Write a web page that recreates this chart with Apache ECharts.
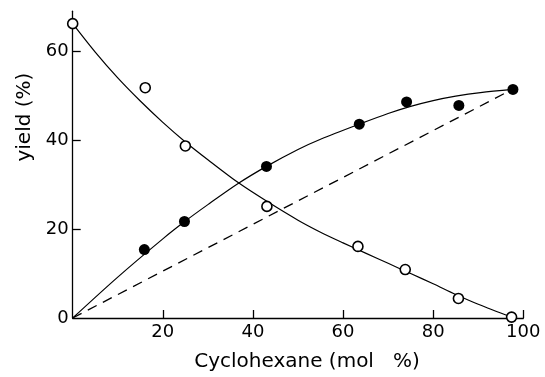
<!DOCTYPE html>
<html>
<head>
<meta charset="utf-8">
<script src="https://cdn.jsdelivr.net/npm/echarts@6/dist/echarts.min.js"></script>
<style>html,body{margin:0;padding:0;background:#fff}#c{width:545px;height:377px}</style>
</head>
<body>
<div id="c"></div>
<script>
// Open circles (decreasing series)
var openX = [0, 16.1, 25.0, 43.1, 63.3, 73.8, 85.6, 97.4];
var openY = [66.2, 51.8, 38.7, 25.1, 16.1, 10.9, 4.4, 0.2];
// Filled circles (increasing series)
var filledX = [15.9, 24.8, 43.0, 63.6, 74.1, 85.7, 97.7];
var filledY = [15.4, 21.7, 34.1, 43.6, 48.6, 47.8, 51.4];
// Hand-drawn fitted curves
var fitDecX = [0, 5, 10, 15, 20, 25, 30, 36.8, 43, 50, 55, 60, 65, 70, 75, 80, 85, 90, 97.4];
var fitDecY = [66.2, 59.8, 54.0, 48.8, 44.0, 39.6, 35.6, 30.4, 26.3, 22.0, 19.3, 16.9, 14.6, 12.3, 10.0, 7.7, 5.3, 3.1, 0.2];
var fitIncX = [0, 10, 20, 25, 30, 36.8, 43, 50, 55, 63.6, 70, 75, 80, 85, 90.5, 97.7];
var fitIncY = [0, 9.2, 17.8, 21.8, 25.5, 30.3, 34.1, 37.9, 40.2, 43.6, 46.0, 47.6, 48.9, 49.9, 50.7, 51.4];
// Dashed reference line
var dashX = [0, 96.4];
var dashY = [0, 50.8];
// Tick labels
var xTicks = [20, 40, 60, 80, 100];
var yLabels = [0, 20, 40, 60];
var yTicks = [20, 40, 60];

function pairs(xs, ys) { return xs.map(function (x, i) { return [x, ys[i]]; }); }

var font = 'DejaVu Sans';
var chart = echarts.init(document.getElementById('c'), null, { renderer: 'canvas' });
chart.setOption({
  animation: false,
  backgroundColor: '#fff',
  grid: { left: 72.7, right: 21.7, top: 11.2, bottom: 55.3, containLabel: false },
  xAxis: {
    type: 'value', min: 0, max: 100, interval: 20,
    name: 'Cyclohexane (mol   %)', nameLocation: 'middle', nameGap: 34,
    nameTextStyle: { fontFamily: font, fontSize: 20, color: '#000', padding: [0, 0, 0, 18] },
    axisLine: { show: true, lineStyle: { color: '#000', width: 1.3 } },
    axisTick: { show: true, inside: true, length: 8, customValues: xTicks, lineStyle: { color: '#000', width: 1.3 } },
    axisLabel: { customValues: xTicks, fontFamily: font, fontSize: 18, color: '#000', margin: 5 },
    splitLine: { show: false }
  },
  yAxis: {
    type: 'value', min: 0, max: 69, interval: 20,
    name: 'yield (%)', nameLocation: 'middle', nameGap: 38, nameRotate: 90,
    nameTextStyle: { fontFamily: font, fontSize: 20, color: '#000', padding: [0, 0, 0, 95] },
    axisLine: { show: true, lineStyle: { color: '#000', width: 1.3 } },
    axisTick: { show: true, inside: true, length: 8, customValues: yTicks, lineStyle: { color: '#000', width: 1.3 } },
    axisLabel: { customValues: yLabels, fontFamily: font, fontSize: 18, color: '#000', margin: 4 },
    splitLine: { show: false }
  },
  series: [
    { type: 'line', data: pairs(fitDecX, fitDecY), smooth: 0.3, showSymbol: false, symbol: 'none',
      lineStyle: { color: '#000', width: 1.2 }, z: 2 },
    { type: 'line', data: pairs(fitIncX, fitIncY), smooth: 0.3, showSymbol: false, symbol: 'none',
      lineStyle: { color: '#000', width: 1.2 }, z: 2 },
    { type: 'line', data: pairs(dashX, dashY), showSymbol: false, symbol: 'none',
      lineStyle: { color: '#000', width: 1.3, type: [10, 7] }, z: 2 },
    { type: 'scatter', data: pairs(openX, openY), symbol: 'circle', symbolSize: 10,
      itemStyle: { color: '#fff', borderColor: '#000', borderWidth: 1.6, opacity: 1 }, z: 3 },
    { type: 'scatter', data: pairs(filledX, filledY), symbol: 'circle', symbolSize: 11,
      itemStyle: { color: '#000', opacity: 1 }, z: 3 }
  ]
});
</script>
</body>
</html>
